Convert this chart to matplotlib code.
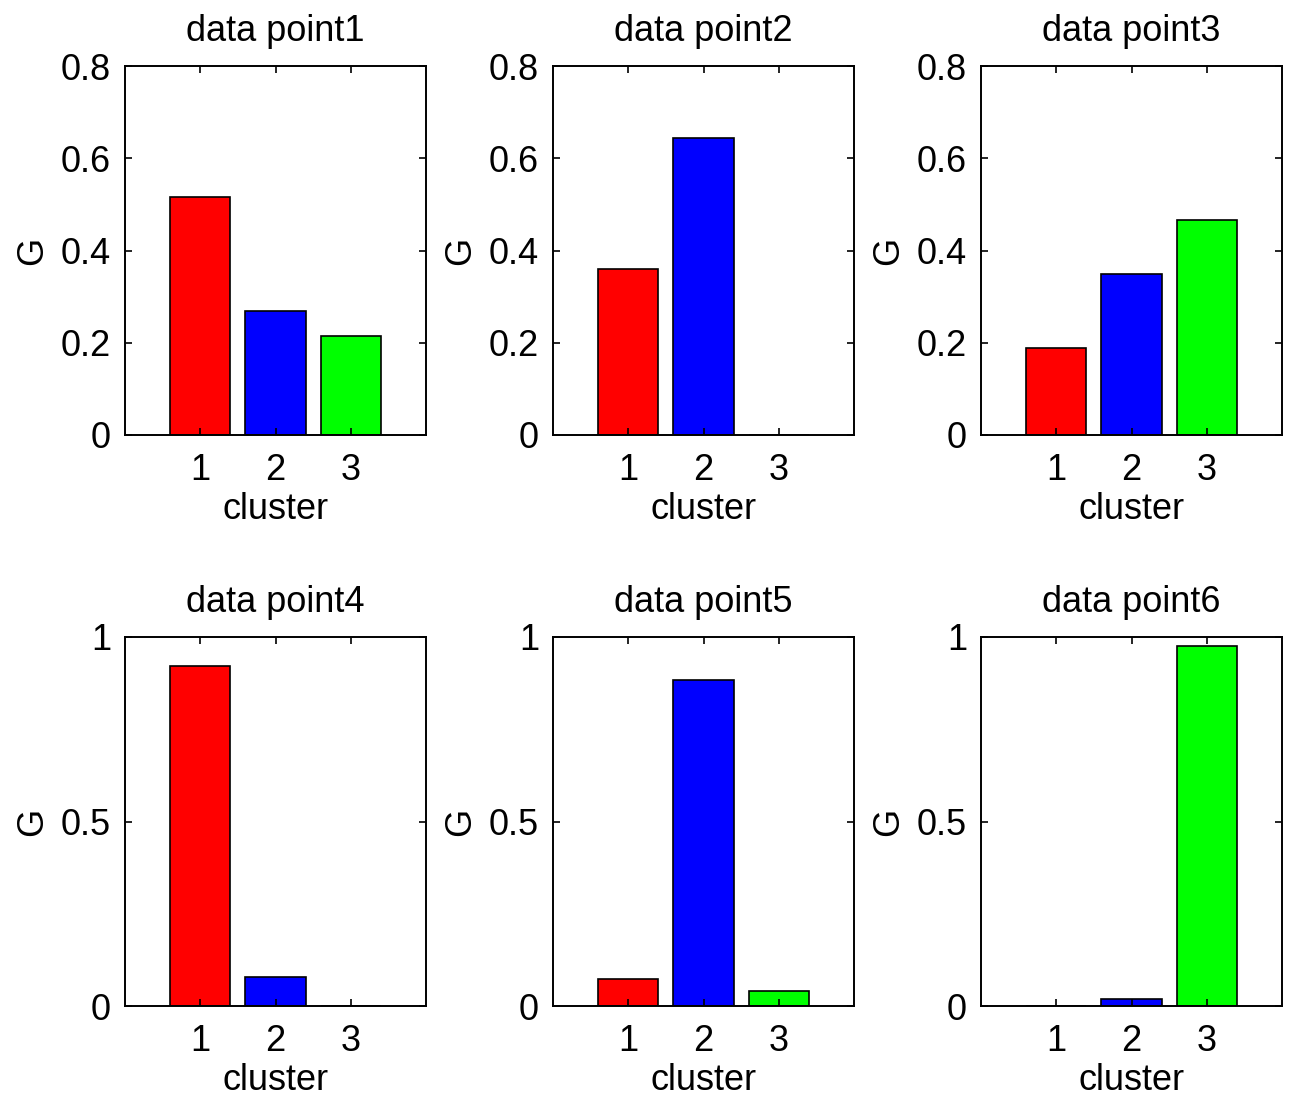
import numpy as np
from matplotlib import pyplot as plt

plt.rcParams['font.family'] = ['Liberation Sans', 'DejaVu Sans']

clusters = [1, 2, 3]
bar_colors = ['#ff0000', '#0000ff', '#00ff00']

titles = ['data point1', 'data point2', 'data point3',
          'data point4', 'data point5', 'data point6']

g_point1 = [0.516, 0.269, 0.215]
g_point2 = [0.360, 0.644, 0.0]
g_point3 = [0.189, 0.349, 0.466]
g_point4 = [0.921, 0.079, 0.0]
g_point5 = [0.073, 0.883, 0.041]
g_point6 = [0.0, 0.019, 0.976]

values = [g_point1, g_point2, g_point3, g_point4, g_point5, g_point6]

top_yticks = [0, 0.2, 0.4, 0.6, 0.8]
top_ylabels = ['0', '0.2', '0.4', '0.6', '0.8']
bottom_yticks = [0, 0.5, 1]
bottom_ylabels = ['0', '0.5', '1']

fig = plt.figure(figsize=(12.9, 11.01), dpi=100)

lefts = [125 / 1290, 553 / 1290, 981 / 1290]
bottoms = [1 - 435 / 1101, 1 - 1006 / 1101]
w = 301 / 1290
h = 369 / 1101
fs = 26

for i, (title, vals) in enumerate(zip(titles, values)):
    row, col = divmod(i, 3)
    ax = fig.add_axes([lefts[col], bottoms[row], w, h])
    ax.bar(clusters, vals, width=0.8, color=bar_colors,
           edgecolor='black', linewidth=1.2)
    ax.set_xlim(0, 4)
    ax.set_xticks(clusters)
    ax.set_xticklabels([str(c) for c in clusters])
    if row == 0:
        ax.set_ylim(0, 0.8)
        ax.set_yticks(top_yticks)
        ax.set_yticklabels(top_ylabels)
    else:
        ax.set_ylim(0, 1)
        ax.set_yticks(bottom_yticks)
        ax.set_yticklabels(bottom_ylabels)
    ax.tick_params(axis='both', direction='in', length=5, width=1.2,
                   labelsize=fs, top=True, right=True)
    ax.tick_params(axis='x', pad=13)
    ax.tick_params(axis='y', pad=10)
    for sp in ax.spines.values():
        sp.set_linewidth(1.4)
    ax.set_title(title, fontsize=fs, pad=18)
    ax.set_xlabel('cluster', fontsize=fs, labelpad=3)
    ax.set_ylabel('G', fontsize=fs, labelpad=8)

fig.savefig('out.png', dpi=100)
